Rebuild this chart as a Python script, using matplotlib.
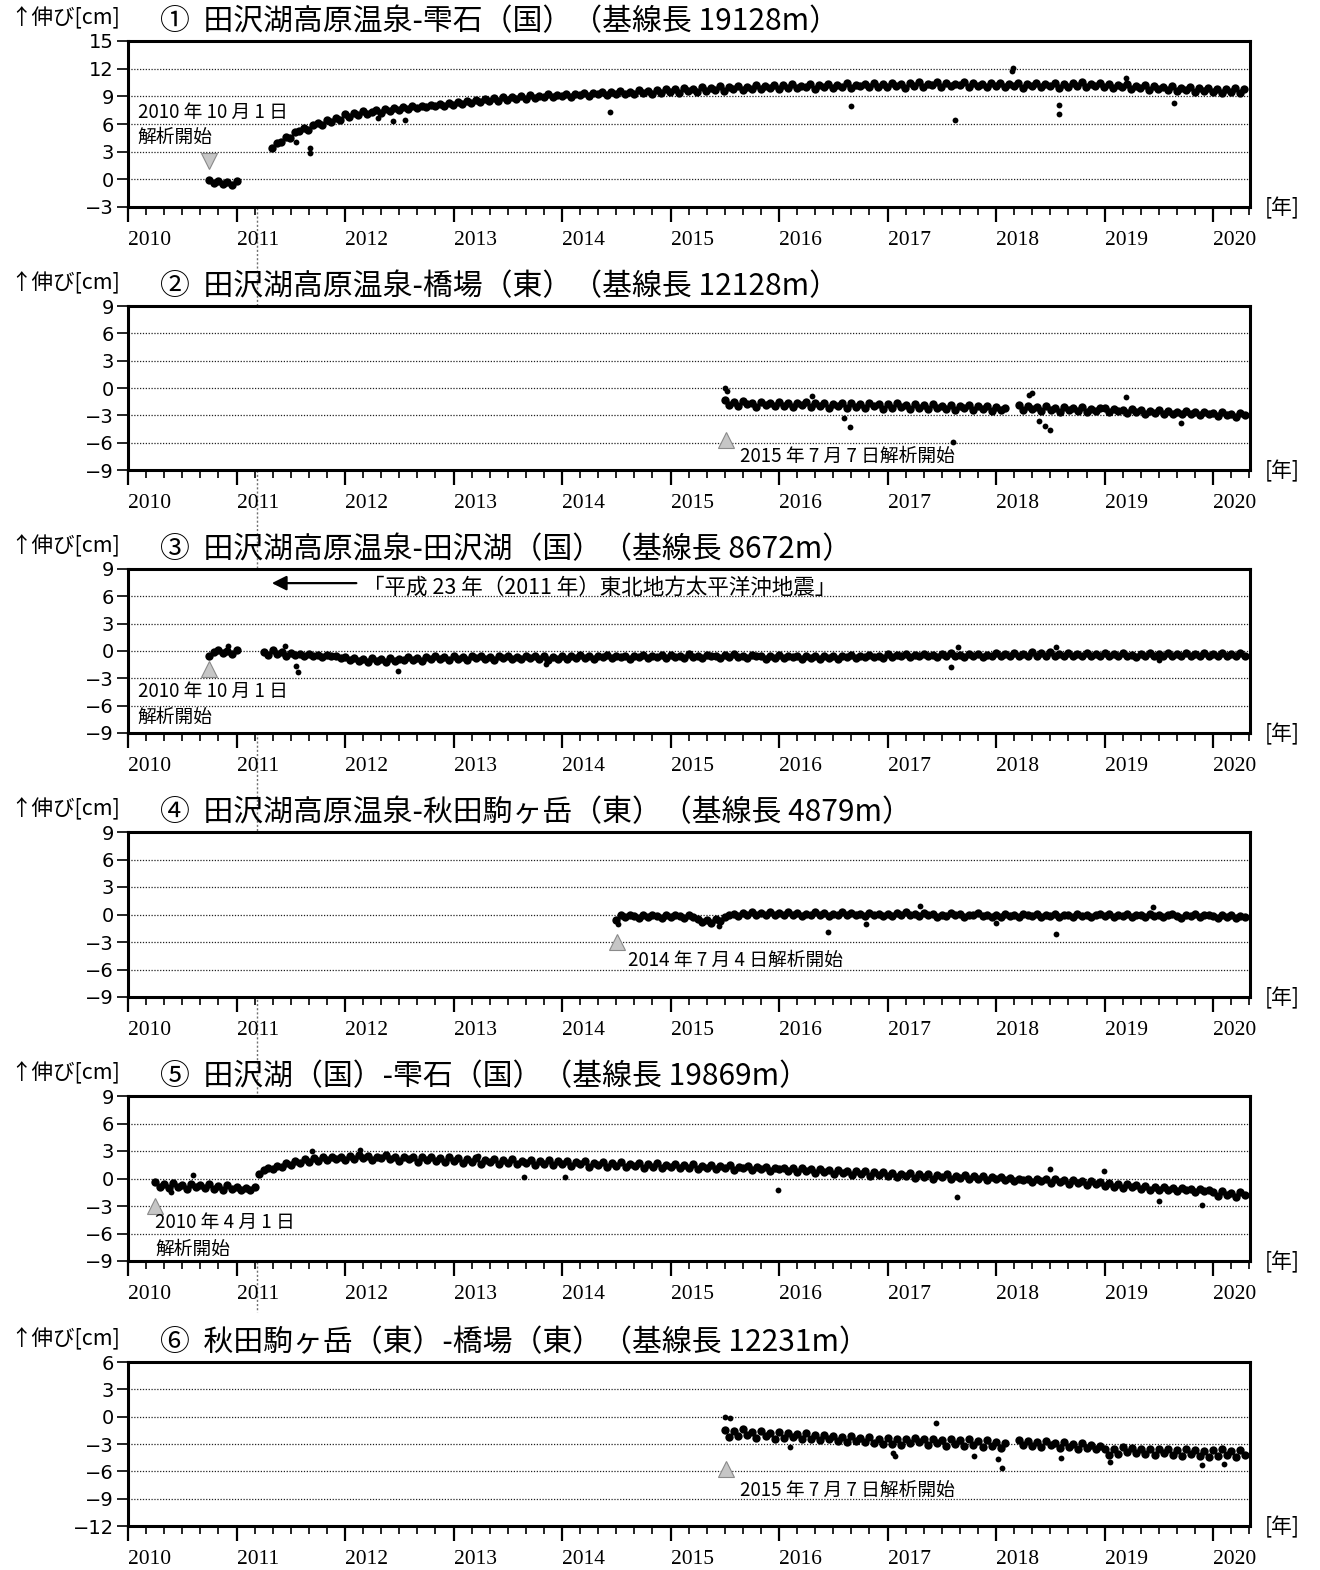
import numpy as np
import matplotlib
matplotlib.use('Agg')
import matplotlib.pyplot as plt
from matplotlib.ticker import MultipleLocator
from matplotlib.lines import Line2D
import matplotlib.transforms as mtransforms

plt.rcParams['font.family'] = ['Noto Sans CJK JP', 'DejaVu Sans']

# ---- data (cm), semi-monthly samples ----
# panel 1
p1_a_start = 2010.75
p1_a = [-0.1, -0.4, -0.2, -0.5, -0.3, -0.6, -0.2]
p1_b_start = 2011.33
p1_b = [3.4, 3.9, 4.1, 4.6, 4.5, 5.1, 5.2, 5.6, 5.4, 5.9, 6.1, 5.9, 6.4, 6.2, 6.7, 6.4,
        7.1, 6.8, 7.2, 7.0, 7.4, 7.1, 7.3, 7.5, 7.2, 7.6, 7.4, 7.7, 7.5, 7.8, 7.6, 7.9, 7.7, 8.0, 7.8, 8.1, 7.9, 8.2, 8.0, 8.3,
        8.1, 8.4, 8.2, 8.5, 8.3, 8.6, 8.4, 8.7, 8.5, 8.8, 8.5, 8.9, 8.6, 8.9, 8.7, 9.0, 8.7, 9.1, 8.8, 9.0, 8.9, 9.2, 8.9, 9.1,
        9.0, 9.3, 8.9, 9.3, 9.1, 9.4, 9.0, 9.4, 9.2, 9.5, 9.1, 9.5, 9.2, 9.6, 9.3, 9.5, 9.3, 9.7, 9.4, 9.6, 9.3, 9.7, 9.4, 9.8,
        9.5, 9.8, 9.4, 9.9, 9.6, 9.8, 9.5, 10.0, 9.6, 9.9, 9.7, 10.1, 9.6, 10.0, 9.8, 10.1, 9.7, 10.0, 9.8, 10.2, 9.8, 10.1, 9.9, 10.2,
        9.8, 10.2, 9.9, 10.3, 9.9, 10.1, 10.0, 10.3, 9.8, 10.2, 10.0, 10.3, 9.9, 10.2, 10.0, 10.4, 9.9, 10.2, 10.1, 10.3, 10.0, 10.4, 10.0, 10.3,
        10.0, 10.4, 10.1, 10.3, 9.9, 10.4, 10.1, 10.5, 10.0, 10.3, 10.2, 10.5, 10.0, 10.4, 10.1, 10.3, 10.2, 10.5, 10.0, 10.4, 10.1, 10.3, 10.0, 10.4,
        10.1, 10.4, 10.0, 10.3, 10.1, 10.4, 9.9, 10.3, 10.1, 10.4, 10.0, 10.3, 10.1, 10.4, 9.9, 10.3, 10.0, 10.4, 10.1, 10.5, 10.0, 10.3, 10.1, 10.4,
        10.0, 10.3, 9.9, 10.2, 10.0, 10.3, 9.8, 10.1, 9.9, 10.2, 9.7, 10.1, 9.8, 10.0, 9.7, 10.1, 9.6, 9.9, 9.7, 10.0, 9.5, 9.9, 9.6, 9.9,
        9.5, 9.8, 9.4, 9.8, 9.5, 9.9, 9.4, 9.8]
p1_out_t = [2011.68, 2011.68, 2011.55, 2012.44, 2012.55, 2012.3, 2014.44, 2016.66, 2017.62, 2018.16, 2018.15, 2018.58, 2018.58, 2019.64, 2019.2]
p1_out_v = [2.9, 3.4, 4.0, 6.3, 6.4, 6.6, 7.3, 7.95, 6.4, 12.1, 11.7, 7.1, 8.1, 8.3, 11.0]

# panel 2
p2_a_start = 2015.50
p2_a = [-1.3, -1.9, -1.5, -2.0, -1.4, -1.8, -1.6, -2.1, -1.5, -1.9, -1.6, -2.0,
        -1.5, -2.0, -1.6, -2.1, -1.7, -1.9, -1.5, -2.1, -1.7, -2.0, -1.6, -2.2, -1.8, -2.0, -1.7, -2.2, -1.7, -2.1, -1.8, -2.2, -1.7, -2.0, -1.8, -2.3,
        -1.8, -2.2, -1.7, -2.1, -1.9, -2.3, -1.8, -2.2, -1.9, -2.3, -1.8, -2.2, -2.0, -2.3, -1.9, -2.4, -2.0, -2.2, -1.9, -2.4, -2.0, -2.3, -2.0, -2.5,
        -2.1, -2.4, -2.2]
p2_b_start = 2018.21
p2_b = [-1.9, -2.4, -2.0, -2.3, -2.1, -2.5, -2.0, -2.4, -2.2, -2.6, -2.1, -2.4, -2.2, -2.5, -2.1, -2.6, -2.3, -2.5, -2.2,
        -2.2, -2.6, -2.3, -2.5, -2.4, -2.7, -2.3, -2.6, -2.4, -2.8, -2.5, -2.7, -2.4, -2.8, -2.5, -2.9, -2.6, -2.8, -2.5, -2.9, -2.6, -3.0, -2.6, -2.9,
        -2.7, -3.1, -2.6, -3.0, -2.8, -3.2, -2.7, -3.0]
p2_out_t = [2015.50, 2015.52, 2016.65, 2016.6, 2017.6, 2018.45, 2018.4, 2018.5, 2019.2, 2019.7, 2016.3, 2018.3, 2018.33]
p2_out_v = [0.0, -0.3, -4.3, -3.3, -5.9, -4.2, -3.6, -4.6, -1.0, -3.8, -0.9, -0.8, -0.5]

# panel 3
p3_a_start = 2010.75
p3_a = [-0.5, -0.1, 0.1, -0.2, 0.0, -0.3, 0.1]
p3_b_start = 2011.25
p3_b = [-0.1, -0.4, 0.1, -0.3, -0.1, -0.5, -0.2, -0.4, -0.3, -0.6, -0.3, -0.5, -0.4, -0.7, -0.4, -0.6, -0.5, -0.8,
        -0.7, -1.0, -0.8, -1.1, -0.9, -1.2, -0.8, -1.1, -0.9, -1.2, -0.8, -1.1, -0.9, -1.0, -0.7, -1.0, -0.8, -1.1, -0.7, -0.9, -0.6, -0.9, -0.7, -1.0,
        -0.6, -0.9, -0.7, -1.0, -0.5, -0.8, -0.6, -0.9, -0.7, -1.0, -0.6, -0.8, -0.5, -0.9, -0.7, -0.9, -0.6, -0.8, -0.5, -0.9, -0.6, -1.0, -0.7, -0.9,
        -0.5, -0.9, -0.6, -0.8, -0.4, -0.8, -0.6, -0.9, -0.5, -0.7, -0.4, -0.8, -0.5, -0.7, -0.6, -0.9, -0.5, -0.7, -0.4, -0.8, -0.5, -0.7, -0.4, -0.8,
        -0.4, -0.7, -0.5, -0.8, -0.3, -0.7, -0.5, -0.8, -0.4, -0.6, -0.5, -0.8, -0.4, -0.7, -0.3, -0.7, -0.5, -0.8, -0.4, -0.6, -0.5, -0.9, -0.5, -0.8,
        -0.4, -0.8, -0.5, -0.7, -0.6, -0.9, -0.5, -0.8, -0.6, -0.9, -0.5, -0.8, -0.6, -0.9, -0.5, -0.7, -0.4, -0.8, -0.5, -0.7, -0.4, -0.7, -0.5, -0.8,
        -0.3, -0.7, -0.4, -0.6, -0.3, -0.7, -0.4, -0.6, -0.3, -0.6, -0.4, -0.7, -0.3, -0.6, -0.2, -0.6, -0.4, -0.7, -0.3, -0.5, -0.3, -0.7, -0.4, -0.6,
        -0.2, -0.6, -0.3, -0.5, -0.2, -0.6, -0.3, -0.5, -0.1, -0.5, -0.2, -0.6, -0.1, -0.5, -0.3, -0.6, -0.2, -0.5, -0.3, -0.6, -0.2, -0.6, -0.3, -0.5,
        -0.2, -0.6, -0.3, -0.5, -0.2, -0.6, -0.4, -0.7, -0.3, -0.5, -0.2, -0.6, -0.3, -0.6, -0.2, -0.5, -0.3, -0.6, -0.2, -0.6, -0.3, -0.5, -0.2, -0.6,
        -0.3, -0.6, -0.2, -0.5, -0.3, -0.6, -0.2, -0.5]
p3_out_t = [2010.92, 2011.55, 2011.57, 2012.49, 2013.85, 2017.58, 2019.5, 2018.55, 2017.65, 2011.45]
p3_out_v = [0.6, -1.6, -2.3, -2.2, -1.4, -1.8, -1.0, 0.4, 0.4, 0.5]

# panel 4
p4_start = 2014.50
p4 = [-0.6, -0.1, -0.3, 0.0, -0.2, -0.4, -0.1, -0.3, 0.0, -0.2, -0.4, -0.1,
      -0.3, 0.0, -0.2, -0.4, -0.1, -0.3, -0.5, -0.8, -0.6, -0.9, -0.5, -0.7, -0.3, -0.1, 0.1, -0.2, 0.2, 0.0, 0.3, -0.1, 0.2, 0.0, 0.3, -0.1,
      0.2, -0.1, 0.3, 0.0, 0.2, -0.2, 0.1, -0.1, 0.3, 0.0, 0.2, -0.2, 0.1, -0.1, 0.3, 0.0, 0.2, -0.1, 0.1, -0.2, 0.2, 0.0, 0.1, -0.2,
      0.1, -0.2, 0.2, 0.0, 0.3, -0.1, 0.1, -0.2, 0.2, -0.1, 0.1, -0.3, 0.0, -0.2, 0.2, -0.1, 0.1, -0.3, 0.0, -0.1, 0.2, -0.2, 0.0, -0.3,
      0.0, -0.3, 0.1, -0.2, 0.0, -0.3, 0.1, -0.1, -0.2, 0.1, -0.3, 0.0, -0.2, 0.1, -0.3, -0.1, 0.0, -0.3, 0.1, -0.2, 0.0, -0.3, -0.1, 0.1,
      -0.2, 0.1, -0.3, 0.0, -0.2, 0.1, -0.3, -0.1, 0.0, -0.3, 0.1, -0.2, 0.0, -0.3, -0.1, 0.1, -0.2, -0.4, 0.0, -0.2, 0.1, -0.3, -0.1, 0.0,
      -0.2, -0.4, 0.0, -0.3, -0.1, -0.4, -0.2, -0.3]
p4_out_t = [2016.45, 2018.55, 2015.45, 2017.3, 2018.0, 2019.45, 2016.8, 2014.52]
p4_out_v = [-1.9, -2.1, -1.3, 0.9, -0.9, 0.8, -1.0, -1.0]

# panel 5
p5_a_start = 2010.25
p5_a = [-0.4, -0.9, -0.6, -1.0, -0.5, -0.9, -0.7, -1.1, -0.6, -0.9, -0.7, -1.0, -0.6, -1.1, -0.8, -1.2, -0.7, -1.1, -0.9, -1.3, -1.0, -1.2, -0.9]
p5_b_start = 2011.21
p5_b = [0.5, 0.9, 1.2, 1.0, 1.4, 1.3, 1.7, 1.5, 1.9, 1.7, 2.1, 1.8, 2.2, 1.9, 2.3, 2.0, 2.4, 2.1, 2.3,
        2.0, 2.5, 2.1, 2.6, 2.2, 2.5, 2.0, 2.4, 2.2, 2.6, 2.1, 2.4, 1.9, 2.4, 2.1, 2.3, 1.8, 2.3, 2.0, 2.4, 1.9, 2.2, 1.8, 2.3,
        1.9, 2.2, 1.7, 2.1, 1.8, 2.2, 1.6, 2.0, 1.8, 2.1, 1.6, 2.0, 1.7, 2.1, 1.6, 1.9, 1.7, 2.0, 1.5, 1.9, 1.6, 2.0, 1.5, 1.9,
        1.6, 1.9, 1.4, 1.8, 1.6, 1.9, 1.3, 1.7, 1.5, 1.8, 1.3, 1.7, 1.4, 1.8, 1.3, 1.6, 1.4, 1.7, 1.2, 1.6, 1.3, 1.7, 1.2, 1.5,
        1.3, 1.6, 1.1, 1.5, 1.2, 1.6, 1.0, 1.4, 1.2, 1.5, 1.0, 1.4, 1.1, 1.5, 0.9, 1.3, 1.1, 1.4, 0.9, 1.3, 1.0, 1.3, 0.8, 1.2,
        1.0, 1.2, 0.8, 1.1, 0.7, 1.1, 0.8, 1.0, 0.6, 1.0, 0.7, 0.9, 0.5, 0.9, 0.6, 0.8, 0.4, 0.8, 0.5, 0.8, 0.3, 0.7, 0.4, 0.7,
        0.3, 0.6, 0.2, 0.5, 0.3, 0.6, 0.1, 0.5, 0.2, 0.5, 0.0, 0.4, 0.2, 0.5, 0.0, 0.3, 0.1, 0.4, -0.1, 0.3, 0.0, 0.3, -0.2, 0.2,
        -0.1, 0.2, -0.2, 0.1, -0.3, 0.0, -0.2, -0.1, -0.4, 0.0, -0.3, -0.1, -0.5, -0.1, -0.4, -0.2, -0.6, -0.2, -0.5, -0.3, -0.7, -0.3, -0.6, -0.4,
        -0.8, -0.5, -0.9, -0.6, -1.0, -0.6, -0.9, -0.7, -1.1, -0.8, -1.2, -0.9, -1.3, -0.9, -1.2, -1.0, -1.4, -1.0, -1.3, -1.1, -1.5, -1.1, -1.4, -1.2,
        -1.5, -1.9, -1.4, -1.8, -1.6, -2.0, -1.5, -1.8]
p5_out_t = [2010.4, 2010.6, 2012.14, 2013.23, 2014.03, 2013.65, 2015.99, 2017.64, 2019.9, 2018.99, 2018.5, 2019.5, 2011.7]
p5_out_v = [-1.5, 0.4, 3.15, 2.5, 0.2, 0.2, -1.2, -2.0, -2.9, 0.8, 1.0, -2.5, 3.0]

# panel 6
p6_a_start = 2015.50
p6_a = [-1.5, -2.2, -1.6, -2.1, -1.4, -2.0, -1.7, -2.3, -1.6, -2.1, -1.8, -2.4,
        -1.7, -2.3, -1.8, -2.2, -1.9, -2.5, -1.8, -2.4, -2.0, -2.6, -2.0, -2.5, -2.1, -2.7, -2.2, -2.8, -2.1, -2.7, -2.3, -2.8, -2.2, -2.9, -2.4, -3.0,
        -2.3, -3.0, -2.5, -3.1, -2.4, -2.9, -2.3, -2.8, -2.5, -3.1, -2.4, -2.9, -2.6, -3.2, -2.5, -3.0, -2.6, -3.2, -2.5, -3.1, -2.7, -3.3, -2.6, -3.2,
        -2.8, -3.4, -2.9]
p6_b_start = 2018.21
p6_b = [-2.6, -3.1, -2.7, -3.2, -2.8, -3.3, -2.7, -3.1, -2.9, -3.4, -2.8, -3.3, -3.0, -3.5, -2.9, -3.4, -3.1, -3.6, -3.2,
        -3.6, -4.2, -3.5, -4.1, -3.3, -3.9, -3.4, -4.0, -3.5, -4.1, -3.6, -4.2, -3.5, -4.0, -3.6, -4.2, -3.7, -4.3, -3.6, -4.1, -3.7, -4.3, -3.8, -4.4,
        -3.7, -4.3, -3.6, -4.2, -3.8, -4.4, -3.7, -4.2]
p6_out_t = [2015.50, 2015.55, 2017.05, 2017.07, 2017.45, 2017.8, 2018.05, 2018.02, 2018.6, 2019.05, 2019.9, 2020.1, 2016.1]
p6_out_v = [0.0, -0.2, -4.0, -4.3, -0.7, -4.3, -5.6, -4.7, -4.5, -5.0, -5.3, -5.2, -3.3]

titles = ['①  田沢湖高原温泉-雫石（国）（基線長 19128m）',
          '②  田沢湖高原温泉-橋場（東）（基線長 12128m）',
          '③  田沢湖高原温泉-田沢湖（国）（基線長 8672m）',
          '④  田沢湖高原温泉-秋田駒ヶ岳（東）（基線長 4879m）',
          '⑤  田沢湖（国）-雫石（国）（基線長 19869m）',
          '⑥  秋田駒ヶ岳（東）-橋場（東）（基線長 12231m）']
ylims = [(-3, 15), (-9, 9), (-9, 9), (-9, 9), (-9, 9), (-12, 6)]
series = [[(p1_a_start, p1_a), (p1_b_start, p1_b)],
          [(p2_a_start, p2_a), (p2_b_start, p2_b)],
          [(p3_a_start, p3_a), (p3_b_start, p3_b)],
          [(p4_start, p4)],
          [(p5_a_start, p5_a), (p5_b_start, p5_b)],
          [(p6_a_start, p6_a), (p6_b_start, p6_b)]]
outliers = [(p1_out_t, p1_out_v), (p2_out_t, p2_out_v), (p3_out_t, p3_out_v),
            (p4_out_t, p4_out_v), (p5_out_t, p5_out_v), (p6_out_t, p6_out_v)]
# analysis start markers: (time, value, marker)
starts = [(2010.75, 2.0, 'v'), (2015.51, -5.7, '^'), (2010.75, -2.0, '^'),
          (2014.51, -3.0, '^'), (2010.25, -3.0, '^'), (2015.51, -5.75, '^')]
notes = [[(2010.09, 7.3, '2010 年 10 月 1 日'), (2010.09, 4.5, '解析開始')],
         [(2015.64, -7.5, '2015 年 7 月 7 日解析開始')],
         [(2010.09, -4.4, '2010 年 10 月 1 日'), (2010.09, -7.25, '解析開始')],
         [(2014.61, -5.05, '2014 年 7 月 4 日解析開始')],
         [(2010.25, -4.8, '2010 年 4 月 1 日'), (2010.25, -7.7, '解析開始')],
         [(2015.64, -8.05, '2015 年 7 月 7 日解析開始')]]
quake = 2011.19
years = list(range(2010, 2021))

W, H = 1320, 1570
fig = plt.figure(figsize=(W / 100, H / 100), dpi=100)
tops = [41, 306, 569, 832, 1096, 1362]
bots = [207, 470, 733, 997, 1261, 1526]
L, R = 128, 1250

axes = []
for i in range(6):
    ax = fig.add_axes([L / W, 1 - bots[i] / H, (R - L) / W, (bots[i] - tops[i]) / H])
    axes.append(ax)
    lo, hi = ylims[i]
    ax.set_xlim(2010, 2020.34)
    ax.set_ylim(lo, hi)
    ax.set_yticks(range(lo, hi + 1, 3))
    for yv in range(lo + 3, hi, 3):
        ax.axhline(yv, color='#222222', lw=0.9, ls=(0, (1, 1.3)), zorder=1)
    for s in ax.spines.values():
        s.set_linewidth(2.2)
    ax.set_xticks(years)
    ax.set_xticklabels([str(y) for y in years], fontfamily='Liberation Serif', fontsize=15.5, ha='left')
    ax.xaxis.set_minor_locator(MultipleLocator(1 / 6))
    ax.tick_params(axis='x', which='major', direction='out', length=11, width=1.6, pad=6)
    ax.tick_params(axis='x', which='minor', direction='out', length=6, width=1.2)
    ax.tick_params(axis='y', direction='out', length=8, width=1.2, pad=2)
    for lab in ax.get_yticklabels():
        lab.set_fontfamily('DejaVu Sans')
        lab.set_fontsize(14)

    for st, vals in series[i]:
        t = st + np.arange(len(vals)) / 24
        ax.plot(t, vals, 'o', color='k', ms=6.0, mew=0, zorder=3)
    ot, ov = outliers[i]
    ax.plot(ot, ov, 'o', color='k', ms=4.2, mew=0, zorder=3)
    tx, ty, mk = starts[i]
    ax.plot(tx, ty, marker=mk, ms=12, mfc='#c6c6c6', mec='#8a8a8a', mew=0.8, zorder=4)
    for nx, ny, s in notes[i]:
        ax.text(nx, ny, s, fontsize=13.5, va='center', ha='left', zorder=5)

    fig.text(160 / W, 1 - (tops[i] - 19) / H, titles[i], fontsize=21.5, va='center', ha='left')
    fig.text(10 / W, 1 - (tops[i] - 23) / H, '↑伸び[cm]', fontsize=15.5, va='center', ha='left')
    fig.text(1265 / W, 1 - (bots[i] + 1) / H, '[年]', fontsize=15, va='center', ha='left')

# earthquake arrow and label in panel 3
axes[2].annotate('', xy=(2011.30, 7.45), xytext=(2012.13, 7.45),
                 arrowprops=dict(arrowstyle='-|>', color='k', lw=1.6, mutation_scale=22))
axes[2].text(2012.17, 6.9, '「平成 23 年（2011 年）東北地方太平洋沖地震」', fontsize=15.5,
             va='center', ha='left')

# vertical line for the 2011 earthquake, through panels 1-5
trans = mtransforms.blended_transform_factory(axes[0].transData, fig.transFigure)
fig.add_artist(Line2D([quake, quake], [1 - 41 / H, 1 - 1312 / H], transform=trans,
                      color='#707070', lw=1.0, ls=(0, (1.5, 1.5)), zorder=0))

fig.savefig('out.png', dpi=100)
